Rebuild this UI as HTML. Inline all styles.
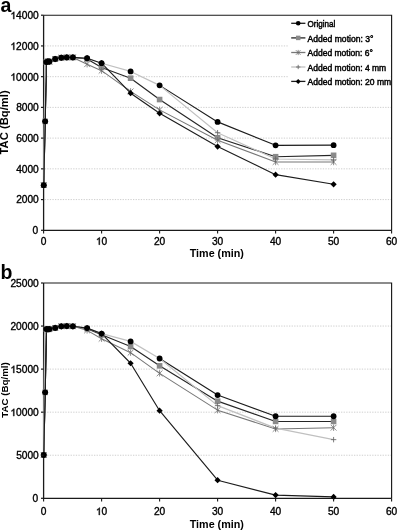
<!DOCTYPE html>
<html><head><meta charset="utf-8"><style>
html,body{margin:0;padding:0;background:#fff;}
body{width:397px;height:530px;overflow:hidden;}
svg{display:block;will-change:transform;}
text{font-family:"Liberation Sans",sans-serif;fill:#000;}
.tl{font-size:10.2px;stroke:#000;stroke-width:0.35px;}
.ti{font-size:10.75px;font-weight:bold;}
.ty{font-size:10.6px;font-weight:bold;}
.lt{font-size:19.5px;font-weight:bold;}
.lg{font-size:8.6px;stroke:#000;stroke-width:0.45px;}
</style></head><body>
<svg width="397" height="530" viewBox="0 0 397 530">
<rect width="397" height="530" fill="#fff"/>
<line x1="44.6" y1="199.57" x2="391.0" y2="199.57" stroke="#cacaca" stroke-width="0.9" stroke-dasharray="1.3 1.3"/>
<line x1="44.6" y1="168.84" x2="391.0" y2="168.84" stroke="#cacaca" stroke-width="0.9" stroke-dasharray="1.3 1.3"/>
<line x1="44.6" y1="138.11" x2="391.0" y2="138.11" stroke="#cacaca" stroke-width="0.9" stroke-dasharray="1.3 1.3"/>
<line x1="44.6" y1="107.39" x2="391.0" y2="107.39" stroke="#cacaca" stroke-width="0.9" stroke-dasharray="1.3 1.3"/>
<line x1="44.6" y1="76.66" x2="391.0" y2="76.66" stroke="#cacaca" stroke-width="0.9" stroke-dasharray="1.3 1.3"/>
<line x1="44.6" y1="45.93" x2="391.0" y2="45.93" stroke="#cacaca" stroke-width="0.9" stroke-dasharray="1.3 1.3"/>
<path d="M43.60 15.20H391.60V230.30" fill="none" stroke="#1a1a1a" stroke-width="1.15"/>
<path d="M43.60 15.20V230.30H391.60" fill="none" stroke="#1a1a1a" stroke-width="1.3"/>
<polyline points="43.72,185.13 45.17,121.37 46.50,62.06" fill="none" stroke="#1c1c1c" stroke-width="1.15" stroke-linejoin="round"/>
<polyline points="159.60,85.37 217.60,121.90 275.60,145.34 333.60,145.18" fill="none" stroke="#1c1c1c" stroke-width="1.15" stroke-linejoin="round"/>
<polyline points="43.72,185.13 45.17,121.37 46.50,62.06 47.95,61.29 49.40,61.60 55.20,59.02 61.29,57.73 66.80,57.42 72.89,57.42 87.10,58.99 101.60,67.44 130.60,78.19 159.60,99.55 217.60,137.75 275.60,156.71 333.60,155.32" fill="none" stroke="#262626" stroke-width="1.15" stroke-linejoin="round"/>
<polyline points="43.72,185.13 44.59,87.41 46.50,62.06 47.95,61.29 49.40,61.60 55.20,59.02 61.29,57.73 66.80,57.42 72.89,57.42 87.10,64.21 101.60,70.67 130.60,91.41 159.60,109.84 217.60,140.27 275.60,162.01 333.60,162.01" fill="none" stroke="#777" stroke-width="1.05" stroke-linejoin="round"/>
<polyline points="43.72,185.13 44.70,87.41 46.50,62.06 47.95,61.29 49.40,61.60 55.20,59.02 61.29,57.73 66.80,57.42 72.89,57.42 87.10,58.22 101.60,63.21 130.60,71.43 159.60,85.37 217.60,132.68 275.60,159.01 333.60,159.93" fill="none" stroke="#c0c0c0" stroke-width="1.2" stroke-linejoin="round"/>
<polyline points="43.72,185.13 45.17,121.37 46.50,62.06 47.95,61.29 49.40,61.60 55.20,59.02 61.29,57.73 66.80,57.42 72.89,57.42 87.10,58.22 101.60,63.21 130.60,93.17 159.60,113.30 217.60,146.56 275.60,174.68 333.60,184.28" fill="none" stroke="#1c1c1c" stroke-width="1.15" stroke-linejoin="round"/>
<rect x="40.92" y="182.33" width="5.60" height="5.60" fill="#8a8a8a"/>
<rect x="42.37" y="118.57" width="5.60" height="5.60" fill="#8a8a8a"/>
<rect x="43.70" y="59.26" width="5.60" height="5.60" fill="#8a8a8a"/>
<rect x="45.15" y="58.49" width="5.60" height="5.60" fill="#8a8a8a"/>
<rect x="46.60" y="58.80" width="5.60" height="5.60" fill="#8a8a8a"/>
<rect x="52.40" y="56.22" width="5.60" height="5.60" fill="#8a8a8a"/>
<rect x="58.49" y="54.93" width="5.60" height="5.60" fill="#8a8a8a"/>
<rect x="64.00" y="54.62" width="5.60" height="5.60" fill="#8a8a8a"/>
<rect x="70.09" y="54.62" width="5.60" height="5.60" fill="#8a8a8a"/>
<rect x="84.30" y="56.19" width="5.60" height="5.60" fill="#8a8a8a"/>
<rect x="98.80" y="64.64" width="5.60" height="5.60" fill="#8a8a8a"/>
<rect x="127.80" y="75.39" width="5.60" height="5.60" fill="#8a8a8a"/>
<rect x="156.80" y="96.75" width="5.60" height="5.60" fill="#8a8a8a"/>
<rect x="214.80" y="134.95" width="5.60" height="5.60" fill="#8a8a8a"/>
<rect x="272.80" y="153.91" width="5.60" height="5.60" fill="#8a8a8a"/>
<rect x="330.80" y="152.52" width="5.60" height="5.60" fill="#8a8a8a"/>
<path d="M40.82 182.23L46.62 188.03M40.82 188.03L46.62 182.23M43.72 181.93V188.33" stroke="#6a6a6a" stroke-width="0.75" fill="none"/>
<path d="M43.60 59.16L49.40 64.96M43.60 64.96L49.40 59.16M46.50 58.86V65.26" stroke="#6a6a6a" stroke-width="0.75" fill="none"/>
<path d="M45.05 58.39L50.85 64.19M45.05 64.19L50.85 58.39M47.95 58.09V64.49" stroke="#6a6a6a" stroke-width="0.75" fill="none"/>
<path d="M46.50 58.70L52.30 64.50M46.50 64.50L52.30 58.70M49.40 58.40V64.80" stroke="#6a6a6a" stroke-width="0.75" fill="none"/>
<path d="M52.30 56.12L58.10 61.92M52.30 61.92L58.10 56.12M55.20 55.82V62.22" stroke="#6a6a6a" stroke-width="0.75" fill="none"/>
<path d="M58.39 54.83L64.19 60.63M58.39 60.63L64.19 54.83M61.29 54.53V60.93" stroke="#6a6a6a" stroke-width="0.75" fill="none"/>
<path d="M63.90 54.52L69.70 60.32M63.90 60.32L69.70 54.52M66.80 54.22V60.62" stroke="#6a6a6a" stroke-width="0.75" fill="none"/>
<path d="M69.99 54.52L75.79 60.32M69.99 60.32L75.79 54.52M72.89 54.22V60.62" stroke="#6a6a6a" stroke-width="0.75" fill="none"/>
<path d="M84.20 61.31L90.00 67.11M84.20 67.11L90.00 61.31M87.10 61.01V67.41" stroke="#6a6a6a" stroke-width="0.75" fill="none"/>
<path d="M98.70 67.77L104.50 73.57M98.70 73.57L104.50 67.77M101.60 67.47V73.87" stroke="#6a6a6a" stroke-width="0.75" fill="none"/>
<path d="M127.70 88.51L133.50 94.31M127.70 94.31L133.50 88.51M130.60 88.21V94.61" stroke="#6a6a6a" stroke-width="0.75" fill="none"/>
<path d="M156.70 106.94L162.50 112.74M156.70 112.74L162.50 106.94M159.60 106.64V113.04" stroke="#6a6a6a" stroke-width="0.75" fill="none"/>
<path d="M214.70 137.37L220.50 143.17M214.70 143.17L220.50 137.37M217.60 137.07V143.47" stroke="#6a6a6a" stroke-width="0.75" fill="none"/>
<path d="M272.70 159.11L278.50 164.91M272.70 164.91L278.50 159.11M275.60 158.81V165.21" stroke="#6a6a6a" stroke-width="0.75" fill="none"/>
<path d="M330.70 159.11L336.50 164.91M330.70 164.91L336.50 159.11M333.60 158.81V165.21" stroke="#6a6a6a" stroke-width="0.75" fill="none"/>
<path d="M214.90 132.68H220.30M217.60 129.98V135.38" stroke="#666" stroke-width="0.85" fill="none"/>
<path d="M272.90 159.01H278.30M275.60 156.31V161.71" stroke="#666" stroke-width="0.85" fill="none"/>
<path d="M330.90 159.93H336.30M333.60 157.23V162.63" stroke="#666" stroke-width="0.85" fill="none"/>
<circle cx="43.72" cy="185.13" r="2.90" fill="#000"/>
<circle cx="45.17" cy="121.37" r="2.90" fill="#000"/>
<circle cx="46.50" cy="62.06" r="2.90" fill="#000"/>
<circle cx="47.95" cy="61.29" r="2.90" fill="#000"/>
<circle cx="49.40" cy="61.60" r="2.90" fill="#000"/>
<circle cx="55.20" cy="59.02" r="2.90" fill="#000"/>
<circle cx="61.29" cy="57.73" r="2.90" fill="#000"/>
<circle cx="66.80" cy="57.42" r="2.90" fill="#000"/>
<circle cx="72.89" cy="57.42" r="2.90" fill="#000"/>
<circle cx="87.10" cy="58.22" r="2.90" fill="#000"/>
<circle cx="101.60" cy="63.21" r="2.90" fill="#000"/>
<circle cx="130.60" cy="71.43" r="2.90" fill="#000"/>
<circle cx="159.60" cy="85.37" r="2.90" fill="#000"/>
<circle cx="217.60" cy="121.90" r="2.90" fill="#000"/>
<circle cx="275.60" cy="145.34" r="2.90" fill="#000"/>
<circle cx="333.60" cy="145.18" r="2.90" fill="#000"/>
<path d="M43.72 182.03L46.82 185.13L43.72 188.23L40.62 185.13Z" fill="#000"/>
<path d="M45.17 118.27L48.27 121.37L45.17 124.47L42.07 121.37Z" fill="#000"/>
<path d="M46.50 58.96L49.60 62.06L46.50 65.16L43.40 62.06Z" fill="#000"/>
<path d="M47.95 58.19L51.05 61.29L47.95 64.39L44.85 61.29Z" fill="#000"/>
<path d="M49.40 58.50L52.50 61.60L49.40 64.70L46.30 61.60Z" fill="#000"/>
<path d="M55.20 55.92L58.30 59.02L55.20 62.12L52.10 59.02Z" fill="#000"/>
<path d="M61.29 54.63L64.39 57.73L61.29 60.83L58.19 57.73Z" fill="#000"/>
<path d="M66.80 54.32L69.90 57.42L66.80 60.52L63.70 57.42Z" fill="#000"/>
<path d="M72.89 54.32L75.99 57.42L72.89 60.52L69.79 57.42Z" fill="#000"/>
<path d="M87.10 55.12L90.20 58.22L87.10 61.32L84.00 58.22Z" fill="#000"/>
<path d="M101.60 60.11L104.70 63.21L101.60 66.31L98.50 63.21Z" fill="#000"/>
<path d="M130.60 90.07L133.70 93.17L130.60 96.27L127.50 93.17Z" fill="#000"/>
<path d="M159.60 110.20L162.70 113.30L159.60 116.40L156.50 113.30Z" fill="#000"/>
<path d="M217.60 143.46L220.70 146.56L217.60 149.66L214.50 146.56Z" fill="#000"/>
<path d="M275.60 171.58L278.70 174.68L275.60 177.78L272.50 174.68Z" fill="#000"/>
<path d="M333.60 181.18L336.70 184.28L333.60 187.38L330.50 184.28Z" fill="#000"/>
<line x1="41" y1="230.30" x2="43.6" y2="230.30" stroke="#1a1a1a" stroke-width="1.2"/>
<text x="38.10" y="234.20" class="tl" text-anchor="end">0</text>
<line x1="41" y1="199.57" x2="43.6" y2="199.57" stroke="#1a1a1a" stroke-width="1.2"/>
<text x="38.80" y="203.47" class="tl" text-anchor="end">2000</text>
<line x1="41" y1="168.84" x2="43.6" y2="168.84" stroke="#1a1a1a" stroke-width="1.2"/>
<text x="38.80" y="172.74" class="tl" text-anchor="end">4000</text>
<line x1="41" y1="138.11" x2="43.6" y2="138.11" stroke="#1a1a1a" stroke-width="1.2"/>
<text x="38.80" y="142.01" class="tl" text-anchor="end">6000</text>
<line x1="41" y1="107.39" x2="43.6" y2="107.39" stroke="#1a1a1a" stroke-width="1.2"/>
<text x="38.80" y="111.29" class="tl" text-anchor="end">8000</text>
<line x1="41" y1="76.66" x2="43.6" y2="76.66" stroke="#1a1a1a" stroke-width="1.2"/>
<text x="38.80" y="80.56" class="tl" text-anchor="end"> 0000</text><path transform="translate(10.44 80.56) scale(0.004980 -0.004980)" d="M763 0H583V1147C540 1106 483 1065 413 1024C343 983 280 952 223 931V1105C322 1152 409 1208 483 1274C557 1340 609 1404 640 1466H763Z" fill="#000" stroke="#000" stroke-width="0.4" vector-effect="non-scaling-stroke"/>
<line x1="41" y1="45.93" x2="43.6" y2="45.93" stroke="#1a1a1a" stroke-width="1.2"/>
<text x="38.80" y="49.83" class="tl" text-anchor="end"> 2000</text><path transform="translate(10.44 49.83) scale(0.004980 -0.004980)" d="M763 0H583V1147C540 1106 483 1065 413 1024C343 983 280 952 223 931V1105C322 1152 409 1208 483 1274C557 1340 609 1404 640 1466H763Z" fill="#000" stroke="#000" stroke-width="0.4" vector-effect="non-scaling-stroke"/>
<line x1="41" y1="15.20" x2="43.6" y2="15.20" stroke="#1a1a1a" stroke-width="1.2"/>
<text x="38.80" y="19.10" class="tl" text-anchor="end"> 4000</text><path transform="translate(10.44 19.10) scale(0.004980 -0.004980)" d="M763 0H583V1147C540 1106 483 1065 413 1024C343 983 280 952 223 931V1105C322 1152 409 1208 483 1274C557 1340 609 1404 640 1466H763Z" fill="#000" stroke="#000" stroke-width="0.4" vector-effect="non-scaling-stroke"/>
<line x1="43.60" y1="230.30" x2="43.60" y2="233.60" stroke="#1a1a1a" stroke-width="1.1"/>
<text x="43.60" y="244.70" class="tl" text-anchor="middle">0</text>
<line x1="101.60" y1="230.30" x2="101.60" y2="233.60" stroke="#1a1a1a" stroke-width="1.1"/>
<text x="101.60" y="244.70" class="tl" text-anchor="middle"> 0</text><path transform="translate(95.93 244.70) scale(0.004980 -0.004980)" d="M763 0H583V1147C540 1106 483 1065 413 1024C343 983 280 952 223 931V1105C322 1152 409 1208 483 1274C557 1340 609 1404 640 1466H763Z" fill="#000" stroke="#000" stroke-width="0.4" vector-effect="non-scaling-stroke"/>
<line x1="159.60" y1="230.30" x2="159.60" y2="233.60" stroke="#1a1a1a" stroke-width="1.1"/>
<text x="159.60" y="244.70" class="tl" text-anchor="middle">20</text>
<line x1="217.60" y1="230.30" x2="217.60" y2="233.60" stroke="#1a1a1a" stroke-width="1.1"/>
<text x="217.60" y="244.70" class="tl" text-anchor="middle">30</text>
<line x1="275.60" y1="230.30" x2="275.60" y2="233.60" stroke="#1a1a1a" stroke-width="1.1"/>
<text x="275.60" y="244.70" class="tl" text-anchor="middle">40</text>
<line x1="333.60" y1="230.30" x2="333.60" y2="233.60" stroke="#1a1a1a" stroke-width="1.1"/>
<text x="333.60" y="244.70" class="tl" text-anchor="middle">50</text>
<line x1="391.60" y1="230.30" x2="391.60" y2="233.60" stroke="#1a1a1a" stroke-width="1.1"/>
<text x="391.60" y="244.70" class="tl" text-anchor="middle">60</text>
<text x="216.8" y="257.30" class="ti" text-anchor="middle">Time (min)</text>
<text transform="translate(8.4 122.40) rotate(-90)" class="ty" style="font-size:11.0px" text-anchor="middle" textLength="64.2" lengthAdjust="spacingAndGlyphs">TAC (Bq/ml)</text>
<text x="0.4" y="12.0" class="lt">a</text>
<rect x="289" y="16" width="101.6" height="72" fill="#fff"/>
<line x1="291.2" y1="23.30" x2="305.4" y2="23.30" stroke="#1c1c1c" stroke-width="1.3"/>
<circle cx="298.20" cy="23.30" r="2.32" fill="#000"/>
<text x="307.6" y="27.00" class="lg" textLength="27.8" lengthAdjust="spacingAndGlyphs">Original</text>
<line x1="291.2" y1="37.90" x2="305.4" y2="37.90" stroke="#262626" stroke-width="1.3"/>
<rect x="295.96" y="35.66" width="4.48" height="4.48" fill="#8a8a8a"/>
<text x="307.6" y="41.60" class="lg" textLength="65.8" lengthAdjust="spacingAndGlyphs">Added motion: 3°</text>
<line x1="291.2" y1="52.50" x2="305.4" y2="52.50" stroke="#777" stroke-width="1.3"/>
<path d="M295.88 50.18L300.52 54.82M295.88 54.82L300.52 50.18M298.20 49.88V55.12" stroke="#6a6a6a" stroke-width="0.75" fill="none"/>
<text x="307.6" y="56.20" class="lg" textLength="65.3" lengthAdjust="spacingAndGlyphs">Added motion: 6°</text>
<line x1="291.2" y1="67.00" x2="305.4" y2="67.00" stroke="#c0c0c0" stroke-width="1.3"/>
<path d="M296.04 67.00H300.36M298.20 64.84V69.16" stroke="#666" stroke-width="0.85" fill="none"/>
<text x="307.6" y="70.70" class="lg" textLength="78.6" lengthAdjust="spacingAndGlyphs">Added motion: 4 mm</text>
<line x1="291.2" y1="81.40" x2="305.4" y2="81.40" stroke="#1c1c1c" stroke-width="1.3"/>
<path d="M298.20 78.92L300.68 81.40L298.20 83.88L295.72 81.40Z" fill="#000"/>
<text x="307.6" y="85.10" class="lg" textLength="83.6" lengthAdjust="spacingAndGlyphs">Added motion: 20 mm</text>
<line x1="44.6" y1="455.24" x2="391.0" y2="455.24" stroke="#cacaca" stroke-width="0.9" stroke-dasharray="1.3 1.3"/>
<line x1="44.6" y1="412.18" x2="391.0" y2="412.18" stroke="#cacaca" stroke-width="0.9" stroke-dasharray="1.3 1.3"/>
<line x1="44.6" y1="369.12" x2="391.0" y2="369.12" stroke="#cacaca" stroke-width="0.9" stroke-dasharray="1.3 1.3"/>
<line x1="44.6" y1="326.06" x2="391.0" y2="326.06" stroke="#cacaca" stroke-width="0.9" stroke-dasharray="1.3 1.3"/>
<path d="M43.60 283.00H391.60V498.30" fill="none" stroke="#1a1a1a" stroke-width="1.15"/>
<path d="M43.60 283.00V498.30H391.60" fill="none" stroke="#1a1a1a" stroke-width="1.3"/>
<polyline points="43.72,455.02 45.17,392.37 46.50,329.07" fill="none" stroke="#1c1c1c" stroke-width="1.15" stroke-linejoin="round"/>
<polyline points="159.60,358.48 217.60,395.06 275.60,416.24 333.60,416.24" fill="none" stroke="#1c1c1c" stroke-width="1.15" stroke-linejoin="round"/>
<polyline points="43.72,455.02 45.17,392.37 46.50,329.07 47.95,329.33 49.40,329.07 55.20,327.89 61.29,326.29 66.80,326.09 72.89,326.29 87.10,328.64 101.60,334.67 130.60,346.56 159.60,365.85 217.60,401.16 275.60,421.45 333.60,421.45" fill="none" stroke="#262626" stroke-width="1.15" stroke-linejoin="round"/>
<polyline points="43.72,455.02 44.59,334.67 46.50,329.07 47.95,329.33 49.40,329.07 55.20,327.89 61.29,326.29 66.80,326.09 72.89,326.29 87.10,330.37 101.60,338.72 130.60,352.67 159.60,373.34 217.60,410.16 275.60,428.94 333.60,427.68" fill="none" stroke="#777" stroke-width="1.05" stroke-linejoin="round"/>
<polyline points="43.72,455.02 44.70,334.67 46.50,329.07 47.95,329.33 49.40,329.07 55.20,327.89 61.29,326.29 66.80,326.09 72.89,326.29 87.10,328.10 101.60,333.60 130.60,341.39 159.60,358.48 217.60,405.63 275.60,428.11 333.60,439.65" fill="none" stroke="#c0c0c0" stroke-width="1.2" stroke-linejoin="round"/>
<polyline points="43.72,455.02 45.17,392.37 46.50,329.07 47.95,329.33 49.40,329.07 55.20,327.89 61.29,326.29 66.80,326.09 72.89,326.29 87.10,328.10 101.60,333.60 130.60,363.26 159.60,410.72 217.60,480.21 275.60,495.10 333.60,496.92" fill="none" stroke="#1c1c1c" stroke-width="1.15" stroke-linejoin="round"/>
<rect x="40.92" y="452.22" width="5.60" height="5.60" fill="#8a8a8a"/>
<rect x="42.37" y="389.57" width="5.60" height="5.60" fill="#8a8a8a"/>
<rect x="43.70" y="326.27" width="5.60" height="5.60" fill="#8a8a8a"/>
<rect x="45.15" y="326.53" width="5.60" height="5.60" fill="#8a8a8a"/>
<rect x="46.60" y="326.27" width="5.60" height="5.60" fill="#8a8a8a"/>
<rect x="52.40" y="325.09" width="5.60" height="5.60" fill="#8a8a8a"/>
<rect x="58.49" y="323.49" width="5.60" height="5.60" fill="#8a8a8a"/>
<rect x="64.00" y="323.29" width="5.60" height="5.60" fill="#8a8a8a"/>
<rect x="70.09" y="323.49" width="5.60" height="5.60" fill="#8a8a8a"/>
<rect x="84.30" y="325.84" width="5.60" height="5.60" fill="#8a8a8a"/>
<rect x="98.80" y="331.87" width="5.60" height="5.60" fill="#8a8a8a"/>
<rect x="127.80" y="343.76" width="5.60" height="5.60" fill="#8a8a8a"/>
<rect x="156.80" y="363.05" width="5.60" height="5.60" fill="#8a8a8a"/>
<rect x="214.80" y="398.36" width="5.60" height="5.60" fill="#8a8a8a"/>
<rect x="272.80" y="418.65" width="5.60" height="5.60" fill="#8a8a8a"/>
<rect x="330.80" y="418.65" width="5.60" height="5.60" fill="#8a8a8a"/>
<path d="M40.82 452.12L46.62 457.92M40.82 457.92L46.62 452.12M43.72 451.82V458.22" stroke="#6a6a6a" stroke-width="0.75" fill="none"/>
<path d="M43.60 326.17L49.40 331.97M43.60 331.97L49.40 326.17M46.50 325.87V332.27" stroke="#6a6a6a" stroke-width="0.75" fill="none"/>
<path d="M45.05 326.43L50.85 332.23M45.05 332.23L50.85 326.43M47.95 326.13V332.53" stroke="#6a6a6a" stroke-width="0.75" fill="none"/>
<path d="M46.50 326.17L52.30 331.97M46.50 331.97L52.30 326.17M49.40 325.87V332.27" stroke="#6a6a6a" stroke-width="0.75" fill="none"/>
<path d="M52.30 324.99L58.10 330.79M52.30 330.79L58.10 324.99M55.20 324.69V331.09" stroke="#6a6a6a" stroke-width="0.75" fill="none"/>
<path d="M58.39 323.39L64.19 329.19M58.39 329.19L64.19 323.39M61.29 323.09V329.49" stroke="#6a6a6a" stroke-width="0.75" fill="none"/>
<path d="M63.90 323.19L69.70 328.99M63.90 328.99L69.70 323.19M66.80 322.89V329.29" stroke="#6a6a6a" stroke-width="0.75" fill="none"/>
<path d="M69.99 323.39L75.79 329.19M69.99 329.19L75.79 323.39M72.89 323.09V329.49" stroke="#6a6a6a" stroke-width="0.75" fill="none"/>
<path d="M84.20 327.47L90.00 333.27M84.20 333.27L90.00 327.47M87.10 327.17V333.57" stroke="#6a6a6a" stroke-width="0.75" fill="none"/>
<path d="M98.70 335.82L104.50 341.62M98.70 341.62L104.50 335.82M101.60 335.52V341.92" stroke="#6a6a6a" stroke-width="0.75" fill="none"/>
<path d="M127.70 349.77L133.50 355.57M127.70 355.57L133.50 349.77M130.60 349.47V355.87" stroke="#6a6a6a" stroke-width="0.75" fill="none"/>
<path d="M156.70 370.44L162.50 376.24M156.70 376.24L162.50 370.44M159.60 370.14V376.54" stroke="#6a6a6a" stroke-width="0.75" fill="none"/>
<path d="M214.70 407.26L220.50 413.06M214.70 413.06L220.50 407.26M217.60 406.96V413.36" stroke="#6a6a6a" stroke-width="0.75" fill="none"/>
<path d="M272.70 426.04L278.50 431.84M272.70 431.84L278.50 426.04M275.60 425.74V432.14" stroke="#6a6a6a" stroke-width="0.75" fill="none"/>
<path d="M330.70 424.78L336.50 430.58M330.70 430.58L336.50 424.78M333.60 424.48V430.88" stroke="#6a6a6a" stroke-width="0.75" fill="none"/>
<path d="M214.90 405.63H220.30M217.60 402.93V408.33" stroke="#666" stroke-width="0.85" fill="none"/>
<path d="M272.90 428.11H278.30M275.60 425.41V430.81" stroke="#666" stroke-width="0.85" fill="none"/>
<path d="M330.90 439.65H336.30M333.60 436.95V442.35" stroke="#666" stroke-width="0.85" fill="none"/>
<circle cx="43.72" cy="455.02" r="2.90" fill="#000"/>
<circle cx="45.17" cy="392.37" r="2.90" fill="#000"/>
<circle cx="46.50" cy="329.07" r="2.90" fill="#000"/>
<circle cx="47.95" cy="329.33" r="2.90" fill="#000"/>
<circle cx="49.40" cy="329.07" r="2.90" fill="#000"/>
<circle cx="55.20" cy="327.89" r="2.90" fill="#000"/>
<circle cx="61.29" cy="326.29" r="2.90" fill="#000"/>
<circle cx="66.80" cy="326.09" r="2.90" fill="#000"/>
<circle cx="72.89" cy="326.29" r="2.90" fill="#000"/>
<circle cx="87.10" cy="328.10" r="2.90" fill="#000"/>
<circle cx="101.60" cy="333.60" r="2.90" fill="#000"/>
<circle cx="130.60" cy="341.39" r="2.90" fill="#000"/>
<circle cx="159.60" cy="358.48" r="2.90" fill="#000"/>
<circle cx="217.60" cy="395.06" r="2.90" fill="#000"/>
<circle cx="275.60" cy="416.24" r="2.90" fill="#000"/>
<circle cx="333.60" cy="416.24" r="2.90" fill="#000"/>
<path d="M43.72 451.92L46.82 455.02L43.72 458.12L40.62 455.02Z" fill="#000"/>
<path d="M45.17 389.27L48.27 392.37L45.17 395.47L42.07 392.37Z" fill="#000"/>
<path d="M46.50 325.97L49.60 329.07L46.50 332.17L43.40 329.07Z" fill="#000"/>
<path d="M47.95 326.23L51.05 329.33L47.95 332.43L44.85 329.33Z" fill="#000"/>
<path d="M49.40 325.97L52.50 329.07L49.40 332.17L46.30 329.07Z" fill="#000"/>
<path d="M55.20 324.79L58.30 327.89L55.20 330.99L52.10 327.89Z" fill="#000"/>
<path d="M61.29 323.19L64.39 326.29L61.29 329.39L58.19 326.29Z" fill="#000"/>
<path d="M66.80 322.99L69.90 326.09L66.80 329.19L63.70 326.09Z" fill="#000"/>
<path d="M72.89 323.19L75.99 326.29L72.89 329.39L69.79 326.29Z" fill="#000"/>
<path d="M87.10 325.00L90.20 328.10L87.10 331.20L84.00 328.10Z" fill="#000"/>
<path d="M101.60 330.50L104.70 333.60L101.60 336.70L98.50 333.60Z" fill="#000"/>
<path d="M130.60 360.16L133.70 363.26L130.60 366.36L127.50 363.26Z" fill="#000"/>
<path d="M159.60 407.62L162.70 410.72L159.60 413.82L156.50 410.72Z" fill="#000"/>
<path d="M217.60 477.11L220.70 480.21L217.60 483.31L214.50 480.21Z" fill="#000"/>
<path d="M275.60 492.00L278.70 495.10L275.60 498.20L272.50 495.10Z" fill="#000"/>
<path d="M333.60 493.82L336.70 496.92L333.60 500.02L330.50 496.92Z" fill="#000"/>
<line x1="41" y1="498.30" x2="43.6" y2="498.30" stroke="#1a1a1a" stroke-width="1.2"/>
<text x="38.10" y="502.20" class="tl" text-anchor="end">0</text>
<line x1="41" y1="455.24" x2="43.6" y2="455.24" stroke="#1a1a1a" stroke-width="1.2"/>
<text x="38.80" y="459.14" class="tl" text-anchor="end">5000</text>
<line x1="41" y1="412.18" x2="43.6" y2="412.18" stroke="#1a1a1a" stroke-width="1.2"/>
<text x="38.80" y="416.08" class="tl" text-anchor="end"> 0000</text><path transform="translate(10.44 416.08) scale(0.004980 -0.004980)" d="M763 0H583V1147C540 1106 483 1065 413 1024C343 983 280 952 223 931V1105C322 1152 409 1208 483 1274C557 1340 609 1404 640 1466H763Z" fill="#000" stroke="#000" stroke-width="0.4" vector-effect="non-scaling-stroke"/>
<line x1="41" y1="369.12" x2="43.6" y2="369.12" stroke="#1a1a1a" stroke-width="1.2"/>
<text x="38.80" y="373.02" class="tl" text-anchor="end"> 5000</text><path transform="translate(10.44 373.02) scale(0.004980 -0.004980)" d="M763 0H583V1147C540 1106 483 1065 413 1024C343 983 280 952 223 931V1105C322 1152 409 1208 483 1274C557 1340 609 1404 640 1466H763Z" fill="#000" stroke="#000" stroke-width="0.4" vector-effect="non-scaling-stroke"/>
<line x1="41" y1="326.06" x2="43.6" y2="326.06" stroke="#1a1a1a" stroke-width="1.2"/>
<text x="38.80" y="329.96" class="tl" text-anchor="end">20000</text>
<line x1="41" y1="283.00" x2="43.6" y2="283.00" stroke="#1a1a1a" stroke-width="1.2"/>
<text x="38.80" y="286.90" class="tl" text-anchor="end">25000</text>
<line x1="43.60" y1="498.30" x2="43.60" y2="501.60" stroke="#1a1a1a" stroke-width="1.1"/>
<text x="43.60" y="515.00" class="tl" text-anchor="middle">0</text>
<line x1="101.60" y1="498.30" x2="101.60" y2="501.60" stroke="#1a1a1a" stroke-width="1.1"/>
<text x="101.60" y="515.00" class="tl" text-anchor="middle"> 0</text><path transform="translate(95.93 515.00) scale(0.004980 -0.004980)" d="M763 0H583V1147C540 1106 483 1065 413 1024C343 983 280 952 223 931V1105C322 1152 409 1208 483 1274C557 1340 609 1404 640 1466H763Z" fill="#000" stroke="#000" stroke-width="0.4" vector-effect="non-scaling-stroke"/>
<line x1="159.60" y1="498.30" x2="159.60" y2="501.60" stroke="#1a1a1a" stroke-width="1.1"/>
<text x="159.60" y="515.00" class="tl" text-anchor="middle">20</text>
<line x1="217.60" y1="498.30" x2="217.60" y2="501.60" stroke="#1a1a1a" stroke-width="1.1"/>
<text x="217.60" y="515.00" class="tl" text-anchor="middle">30</text>
<line x1="275.60" y1="498.30" x2="275.60" y2="501.60" stroke="#1a1a1a" stroke-width="1.1"/>
<text x="275.60" y="515.00" class="tl" text-anchor="middle">40</text>
<line x1="333.60" y1="498.30" x2="333.60" y2="501.60" stroke="#1a1a1a" stroke-width="1.1"/>
<text x="333.60" y="515.00" class="tl" text-anchor="middle">50</text>
<line x1="391.60" y1="498.30" x2="391.60" y2="501.60" stroke="#1a1a1a" stroke-width="1.1"/>
<text x="391.60" y="515.00" class="tl" text-anchor="middle">60</text>
<text x="216.8" y="527.70" class="ti" text-anchor="middle">Time (min)</text>
<text transform="translate(8.4 390.00) rotate(-90)" class="ty" style="font-size:9.4px" text-anchor="middle" textLength="55.4" lengthAdjust="spacingAndGlyphs">TAC (Bq/ml)</text>
<text x="0.4" y="278.8" class="lt">b</text>
</svg>
</body></html>
